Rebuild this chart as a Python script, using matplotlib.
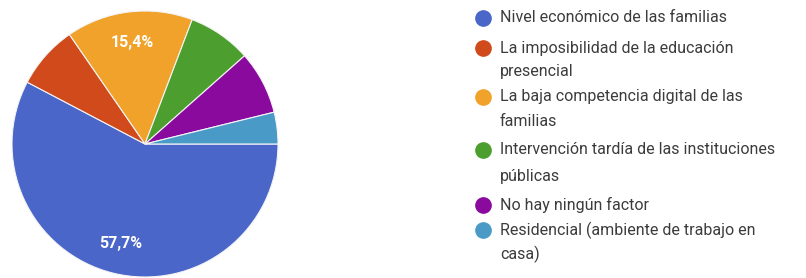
import matplotlib.pyplot as plt
from matplotlib.lines import Line2D

# data
labels = [
    "Nivel económico de las familias",
    "La imposibilidad de la educación\npresencial",
    "La baja competencia digital de las\nfamilias",
    "Intervención tardía de las instituciones\npúblicas",
    "No hay ningún factor",
    "Residencial (ambiente de trabajo en\ncasa)",
]
counts = [15, 2, 4, 2, 2, 1]
colors = ["#4a66c8", "#d04a1c", "#f0a22a", "#4c9e2e", "#8a0a9e", "#4a9ac8"]

W, H = 806, 278
fig = plt.figure(figsize=(W / 100, H / 100), dpi=100)

# pie axes, center ~ (145, 144) px, radius ~133 px
cx, cy, r = 145, 144, 133
ax = fig.add_axes([(cx - r) / W, (H - cy - r) / H, 2 * r / W, 2 * r / H])


def pct(p):
    if p < 10:
        return ""
    return f"{p:.1f}%".replace(".", ",")


wedges, texts, autotexts = ax.pie(
    counts, colors=colors, startangle=0, counterclock=False,
    autopct=pct, pctdistance=0.77,
    wedgeprops=dict(edgecolor="#f4f4f4", linewidth=0.8),
    textprops=dict(color="white", fontsize=11.5, family="Roboto", weight="bold"),
)
ax.set_xlim(-1.0, 1.0)
ax.set_ylim(-1.0, 1.0)
ax.set_aspect("equal")
ax.axis("off")

# legend drawn by hand
ys = [[18], [48, 72], [97, 122], [150, 176], [205], [230, 254]]
for lab, col, yy in zip(labels, colors, ys):
    fig.add_artist(Line2D([483 / W], [1 - yy[0] / H], marker="o", markersize=11,
                          color=col, linestyle="none", transform=fig.transFigure))
    for line, y in zip(lab.split("\n"), yy):
        fig.text(500 / W, 1 - y / H, line, fontsize=11.5, family="Roboto",
                 color="#3c3c3c", va="center", ha="left")

fig.savefig("out.png", dpi=100)
